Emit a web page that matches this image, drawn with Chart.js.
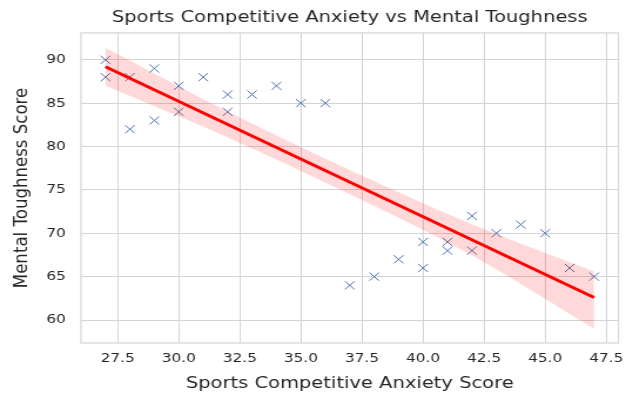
<!DOCTYPE html>
<html>
<head>
<meta charset="utf-8">
<script src="https://cdn.jsdelivr.net/npm/chart.js@4.4.1/dist/chart.umd.min.js"></script>
<style>
  html, body { margin: 0; padding: 0; background: #ffffff; overflow: hidden; }
  #chart { display: block; }
</style>
</head>
<body>
<!-- drawn on a narrower canvas and widened by CSS for the figure's wide aspect -->
<canvas id="chart" width="539" height="394" style="width:633px;height:394px;"></canvas>
<script>
// Survey responses: anxiety score and mental toughness score per athlete
const anxietyScores = [27, 27, 28, 28, 29, 29, 30, 30, 31, 32, 32, 33, 34, 35, 36,
                       37, 38, 39, 40, 40, 41, 41, 42, 42, 43, 44, 45, 46, 47];
const toughnessScores = [90, 88, 88, 82, 89, 83, 87, 84, 88, 86, 84, 86, 87, 85, 85,
                         64, 65, 67, 69, 66, 69, 68, 72, 68, 70, 71, 70, 66, 65];

// Fitted regression line and its 95% confidence band
const fitX = [27, 47];
const fitY = [89.2, 62.6];
const bandX = [27, 32, 37, 42, 47];
const bandUpper = [91.4, 84.05, 77.3, 71.05, 65.6];
const bandLower = [87.0, 81.05, 74.5, 67.45, 59.0];

// Tick positions
const xTicks = [27.5, 30.0, 32.5, 35.0, 37.5, 40.0, 42.5, 45.0, 47.5];
const yTicks = [60, 65, 70, 75, 80, 85, 90];

const textColor = '#262626';
const gridColor = '#d4d4d4';
const fontFamily = '"DejaVu Sans", sans-serif';

const pairs = (xs, ys) => xs.map((x, i) => ({ x: x, y: ys[i] }));

// Light frame around the whole plotting area
const frame = {
  id: 'frame',
  afterDraw(chart) {
    const { ctx, chartArea: a } = chart;
    ctx.save();
    ctx.strokeStyle = gridColor;
    ctx.lineWidth = 1.2;
    ctx.strokeRect(a.left, a.top, a.right - a.left, a.bottom - a.top);
    ctx.restore();
  }
};

new Chart(document.getElementById('chart'), {
  type: 'scatter',
  data: {
    datasets: [
      {
        label: 'fit',
        data: pairs(fitX, fitY),
        showLine: true,
        borderColor: '#ff0000',
        borderWidth: 3,
        pointRadius: 0,
        order: 1
      },
      {
        label: 'upper',
        data: pairs(bandX, bandUpper),
        showLine: true,
        borderWidth: 0,
        borderColor: 'rgba(0,0,0,0)',
        backgroundColor: 'rgba(255,0,0,0.15)',
        pointRadius: 0,
        cubicInterpolationMode: 'monotone',
        fill: '+1',
        order: 2
      },
      {
        label: 'lower',
        data: pairs(bandX, bandLower),
        showLine: true,
        borderWidth: 0,
        borderColor: 'rgba(0,0,0,0)',
        pointRadius: 0,
        cubicInterpolationMode: 'monotone',
        fill: false,
        order: 3
      },
      {
        label: 'athletes',
        data: pairs(anxietyScores, toughnessScores),
        pointStyle: 'crossRot',
        pointRadius: 5.8,
        borderWidth: 1,
        borderColor: '#4c72b0',
        backgroundColor: '#4c72b0',
        order: 4
      }
    ]
  },
  options: {
    responsive: false,
    animation: false,
    events: [],
    devicePixelRatio: 1,
    layout: { padding: { left: 0, right: 5.6, top: 0, bottom: 0 } },
    plugins: {
      legend: { display: false },
      tooltip: { enabled: false },
      title: {
        display: true,
        fullSize: false,
        text: 'Sports Competitive Anxiety vs Mental Toughness',
        color: textColor,
        font: { family: fontFamily, size: 16.6, weight: 'normal' },
        padding: { top: 8, bottom: 5 }
      }
    },
    scales: {
      x: {
        type: 'linear',
        min: 26,
        max: 48,
        afterBuildTicks(scale) { scale.ticks = xTicks.map(v => ({ value: v })); },
        afterFit(scale) { scale.height = 51; },
        grid: { color: gridColor, lineWidth: 1, drawTicks: false },
        border: { display: false },
        ticks: {
          color: textColor,
          padding: 8,
          font: { family: fontFamily, size: 13 },
          maxRotation: 0,
          callback: v => v.toFixed(1)
        },
        title: {
          display: true,
          text: 'Sports Competitive Anxiety Score',
          color: textColor,
          font: { family: fontFamily, size: 16.6 },
          padding: { top: 3, bottom: 0 }
        }
      },
      y: {
        type: 'linear',
        min: 57.35,
        max: 93.1,
        afterBuildTicks(scale) { scale.ticks = yTicks.map(v => ({ value: v })); },
        afterFit(scale) { scale.width = 69; },
        grid: { color: gridColor, lineWidth: 1, drawTicks: false },
        border: { display: false },
        ticks: {
          color: textColor,
          padding: 13,
          font: { family: fontFamily, size: 13 },
          callback: v => String(v)
        },
        title: {
          display: true,
          text: 'Mental Toughness Score',
          color: textColor,
          font: { family: fontFamily, size: 16.6 },
          padding: { top: 9, bottom: 0 }
        }
      }
    }
  },
  plugins: [frame]
});
</script>
</body>
</html>
